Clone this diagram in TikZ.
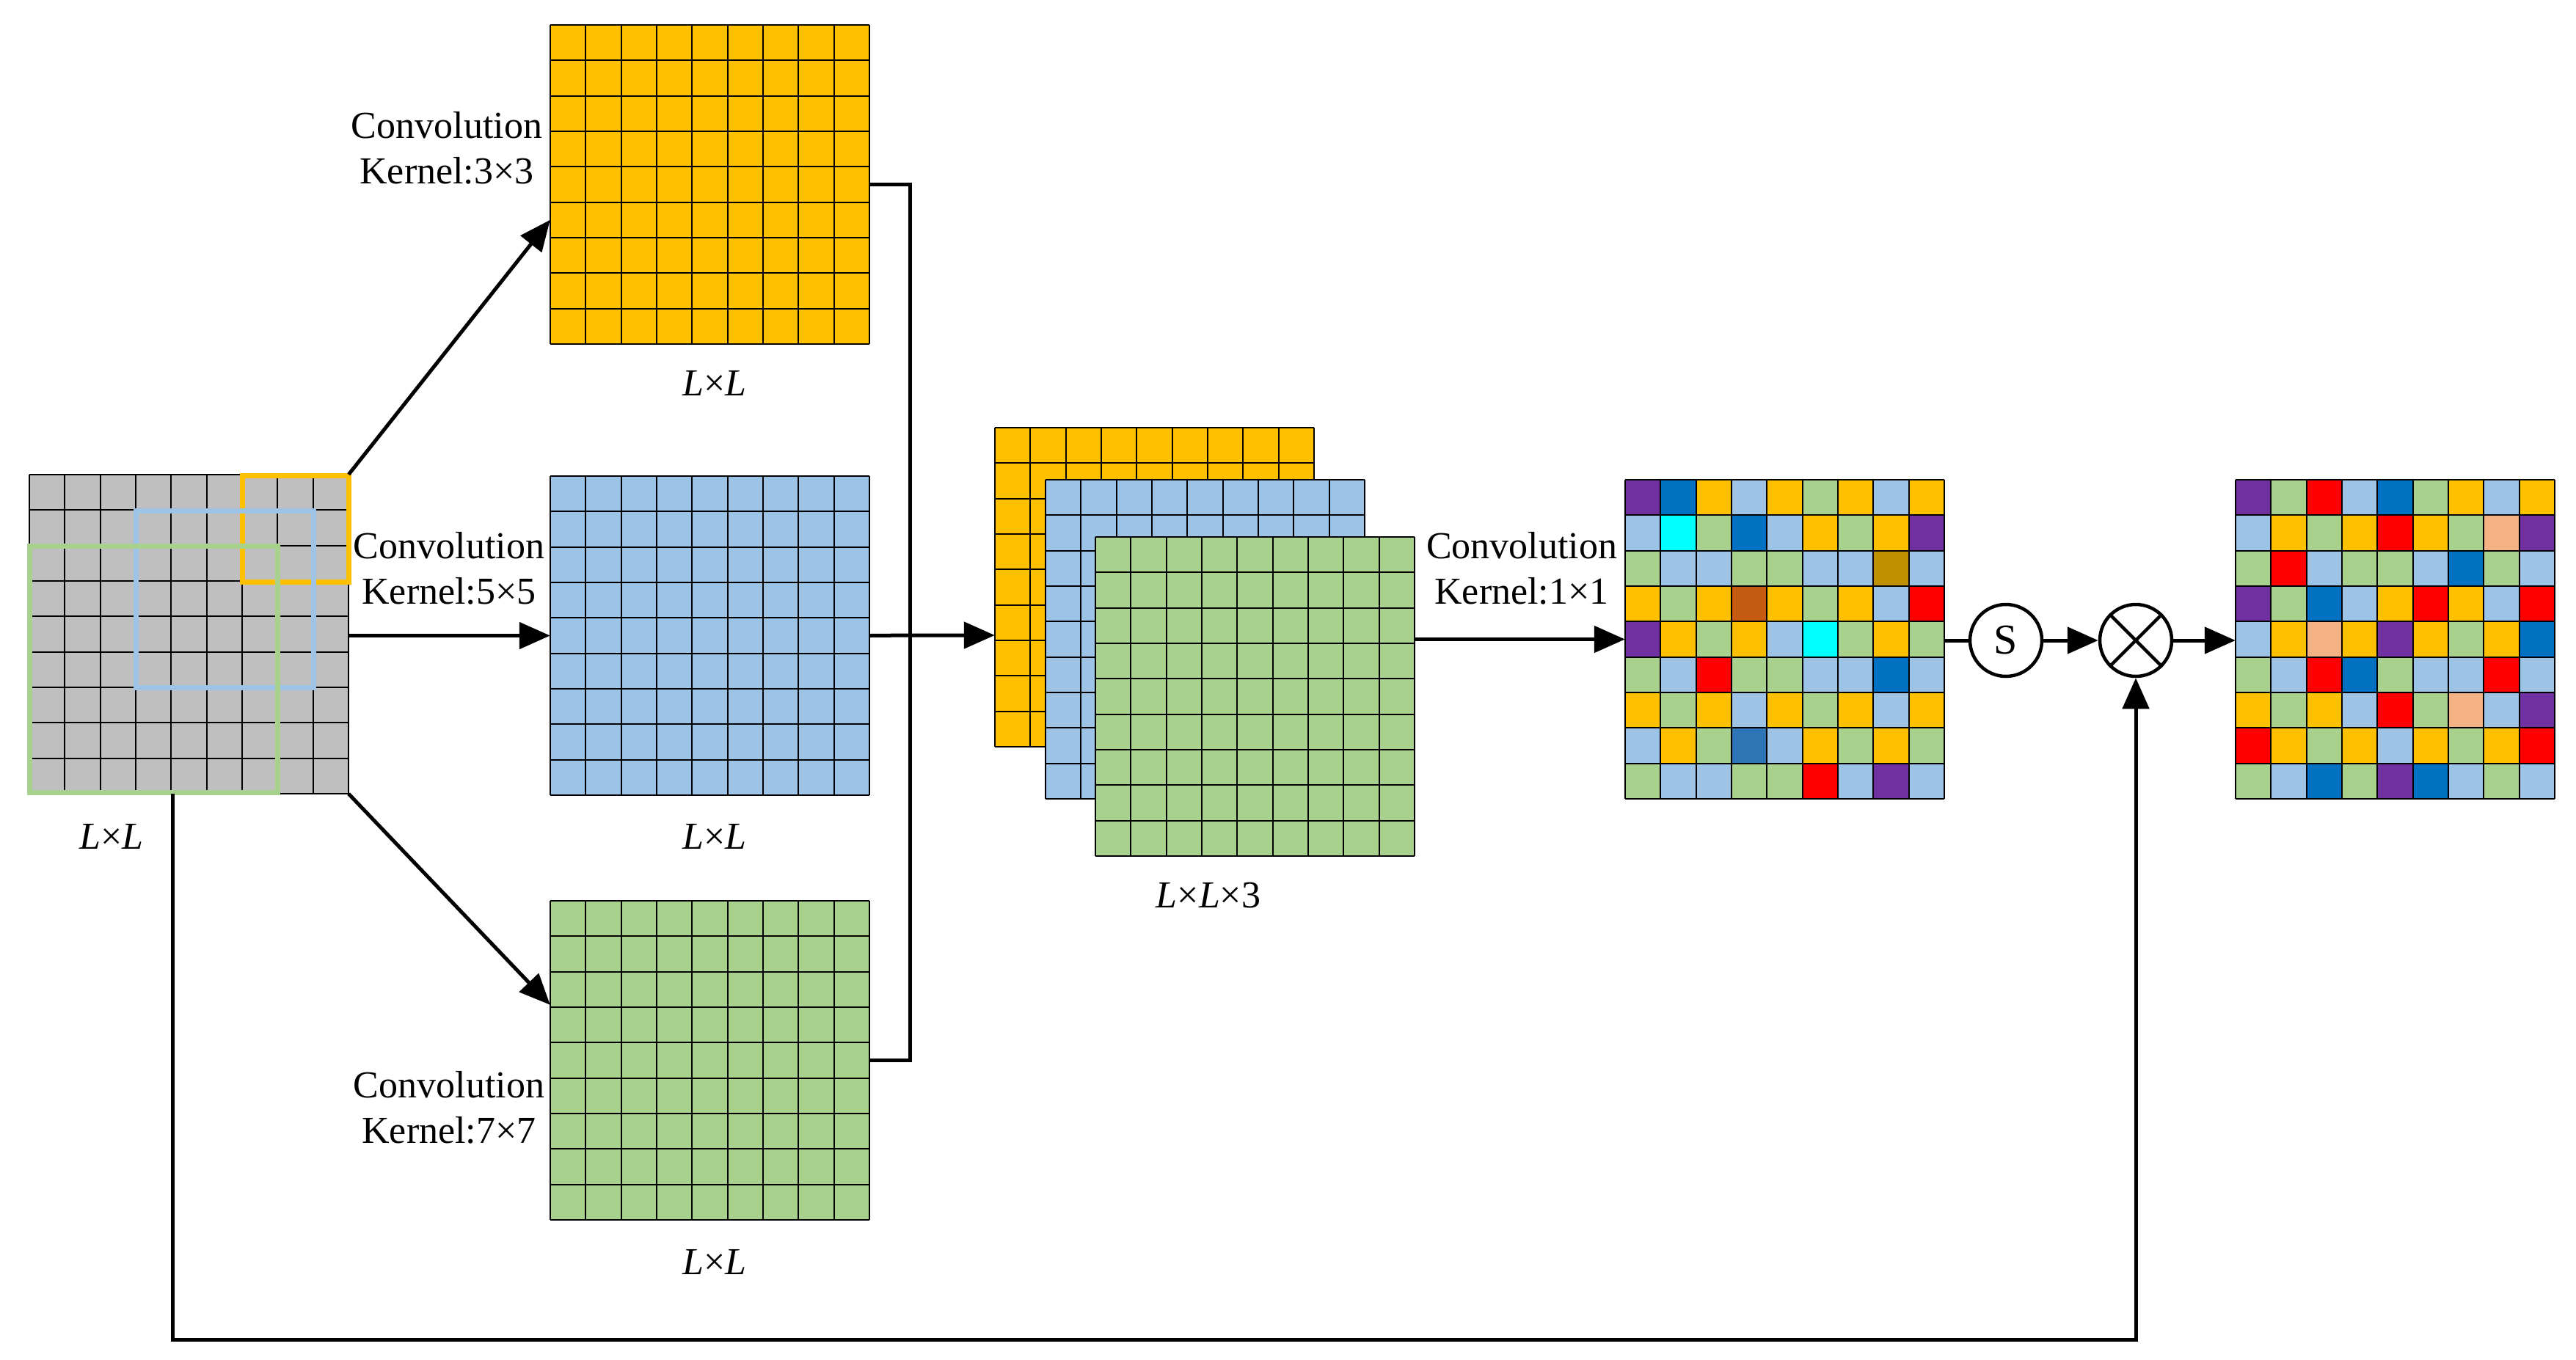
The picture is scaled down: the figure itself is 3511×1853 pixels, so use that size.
\documentclass[tikz,border=0pt]{standalone}
\usepackage{fontspec}
\setmainfont{Liberation Serif}
\usetikzlibrary{arrows.meta}
\definecolor{cO}{HTML}{FFC000}
\definecolor{cL}{HTML}{9DC3E6}
\definecolor{cG}{HTML}{A9D18E}
\definecolor{cY}{HTML}{BFBFBF}
\definecolor{cP}{HTML}{7030A0}
\definecolor{cB}{HTML}{0070C0}
\definecolor{cC}{HTML}{00FFFF}
\definecolor{cR}{HTML}{FF0000}
\definecolor{cD}{HTML}{BF9000}
\definecolor{cN}{HTML}{C55A11}
\definecolor{cM}{HTML}{2E75B6}
\definecolor{cK}{HTML}{F4B183}
\newcommand\mygrid[3]{%
  \fill[#3] (#1,#2) rectangle ++(435,435);
  \foreach \i in {0,...,9} {
    \draw[gl] (#1+\i*48.333,#2) -- ++(0,435);
    \draw[gl] (#1,#2+\i*48.333) -- ++(435,0);}
}
\newcommand\mycolgrid[3]{%
  \foreach \row [count=\r from 0] in {#3} {
    \foreach \c [count=\k from 0] in \row {
      \fill[c\c] (#1+\k*48.333,#2+\r*48.333) rectangle ++(48.333,48.333);}}
  \foreach \i in {0,...,9} {
    \draw[gl] (#1+\i*48.333,#2) -- ++(0,435);
    \draw[gl] (#1,#2+\i*48.333) -- ++(435,0);}
}
\begin{document}
\begin{tikzpicture}[x=1pt,y=-1pt,
  gl/.style={black,line width=2pt},
  box/.style={minimum width=435pt,minimum height=435pt,inner sep=0pt,draw=none},
  arr/.style={line width=5pt,-{Triangle[length=42pt,width=36pt]}},
  ln/.style={line width=5pt},
  txt/.style={font=\fontsize{52}{62}\selectfont,align=center,inner sep=0pt},
  op/.style={circle,draw,line width=4.5pt,minimum size=98pt,inner sep=0pt,fill=white,font=\fontsize{58}{62}\selectfont}]
\useasboundingbox (0,0) rectangle (3511,1853);
% input grid
\mygrid{40}{647}{cY}
\node[box] (in) at (257.5,864.5) {};
\draw[cO,line width=7pt] (330,648) rectangle (475,793);
\draw[cL,line width=7pt] (185,696) rectangle (427,937);
\draw[cG,line width=7pt] (40,744) rectangle (378,1080);
\node[txt] (lin) at (152,1140) {\textit{L}×\textit{L}};
% three branch grids
\mygrid{750}{34}{cO}
\node[box] (g3) at (967.5,251.5) {};
\mygrid{750}{649}{cL}
\node[box] (g5) at (967.5,866.5) {};
\mygrid{750}{1228}{cG}
\node[box] (g7) at (967.5,1445.5) {};
\node[txt] (l3) at (974,522) {\textit{L}×\textit{L}};
\node[txt] (l5) at (974,1140) {\textit{L}×\textit{L}};
\node[txt] (l7) at (974,1720) {\textit{L}×\textit{L}};
\node[txt] (c3) at (609,202) {Convolution\\Kernel:3×3};
\node[txt] (c5) at (612,775) {Convolution\\Kernel:5×5};
\node[txt] (c7) at (612,1510) {Convolution\\Kernel:7×7};
% stack
\mygrid{1356}{583}{cO}
\node[box] (s1) at (1573.5,800.5) {};
\mygrid{1425}{654}{cL}
\mygrid{1493}{732}{cG}
\node[box] (s3) at (1710.5,949.5) {};
\node[txt] (l3s) at (1647,1221) {\textit{L}×\textit{L}×3};
\node[txt] (c1) at (2074,775) {Convolution\\Kernel:1×1};
% colored grids
\mycolgrid{2215}{654}{{P,B,O,L,O,G,O,L,O},{L,C,G,B,L,O,G,O,P},{G,L,L,G,G,L,L,D,L},{O,G,O,N,O,G,O,L,R},{P,O,G,O,L,C,G,O,G},{G,L,R,G,G,L,L,B,L},{O,G,O,L,O,G,O,L,O},{L,O,G,M,L,O,G,O,G},{G,L,L,G,G,R,L,P,L}}
\node[box] (m1) at (2432.5,871.5) {};
\mycolgrid{3047}{654}{{P,G,R,L,B,G,O,L,O},{L,O,G,O,R,O,G,K,P},{G,R,L,G,G,L,B,G,L},{P,G,B,L,O,R,O,L,R},{L,O,K,O,P,O,G,O,B},{G,L,R,B,G,L,L,R,L},{O,G,O,L,R,G,K,L,P},{R,O,G,O,L,O,G,O,R},{G,L,B,G,P,B,L,G,L}}
\node[box] (m2) at (3264.5,871.5) {};
% operators
\node[op] (s) at (2734,873) {S};
\node[op] (ot) at (2911,873) {};
\draw[line width=4.5pt] (ot.north west) -- (ot.south east) (ot.north east) -- (ot.south west);
% connectors
\draw[arr] (in.north east) -- ([yshift=-266pt]g3.north west);
\draw[arr] (in.east |- g5.west) -- (g5.west);
\draw[arr] (in.south east) -- ([yshift=-142pt]g7.north west);
\coordinate (j) at (1240,866);
\draw[ln] (g3.east) -| (j);
\draw[ln] (g7.east) -| (j);
\draw[arr] (g5.east) -- (j) -- (s1.west |- j);
\draw[arr] (s3.east |- m1.west) -- (m1.west);
\draw[ln] (m1.east |- s.west) -- (s.west);
\draw[arr] (s.east) -- (ot.west);
\draw[arr] (ot.east) -- (m2.west |- ot.east);
\draw[arr] ([xshift=-22.5pt]in.south) -- ++(0,744) -| (ot.south);
\end{tikzpicture}
\end{document}
